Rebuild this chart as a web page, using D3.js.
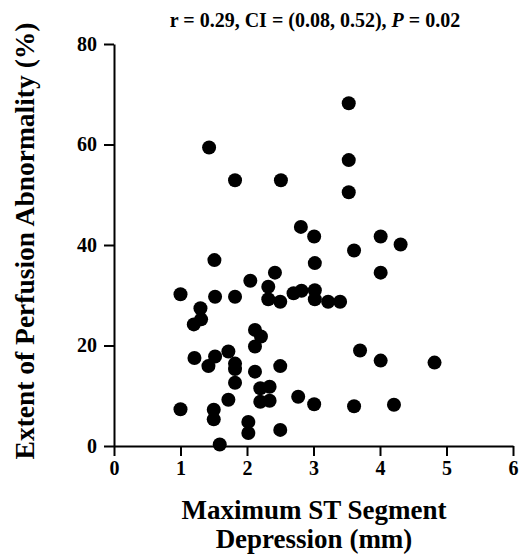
<!DOCTYPE html>
<html>
<head>
<meta charset="utf-8">
<script src="https://cdn.jsdelivr.net/npm/d3@7"></script>
<style>
  body { margin: 0; background: #fff; }
  svg { display: block; }
  .axis path, .axis line { stroke: #000; stroke-width: 2; }
  .axis text { font-family: "Liberation Serif", "Times New Roman", serif; font-weight: bold; font-size: 20px; fill: #000; }
  .label { font-family: "Liberation Serif", "Times New Roman", serif; font-weight: bold; fill: #000; }
</style>
</head>
<body>
<div id="chart"></div>
<script>
// ST depression (mm) vs extent of perfusion abnormality (%)
const stDepression = [
  1.0, 1.52, 1.82, 2.05, 2.42, 2.32, 2.32, 2.50, 2.70, 2.82, 3.02, 3.02, 3.22, 3.40,
  1.30, 1.31, 1.20, 2.12, 2.21, 2.12, 3.70, 1.21, 1.52, 1.42, 1.72, 1.82, 1.82, 2.12,
  2.50, 1.82, 2.20, 2.34, 2.20, 2.34, 1.72, 1.0, 1.50, 1.50, 2.77, 3.01, 2.02, 2.02,
  2.50, 1.59, 3.61, 3.53, 1.43, 1.82, 2.51, 3.53, 3.53, 2.81, 3.01, 3.02, 3.61, 1.51,
  4.01, 4.31, 4.01, 4.01, 4.82, 4.21
];
const perfusion = [
  30.2, 29.7, 29.7, 32.9, 34.5, 31.7, 29.2, 28.7, 30.4, 30.9, 31.0, 29.2, 28.7, 28.7,
  27.4, 25.2, 24.2, 23.1, 21.8, 19.8, 19.0, 17.5, 17.8, 15.9, 18.8, 16.4, 15.3, 14.8,
  15.9, 12.6, 11.5, 11.8, 8.8, 9.0, 9.2, 7.3, 7.2, 5.3, 9.8, 8.3, 4.8, 2.6,
  3.2, 0.3, 7.9, 68.2, 59.4, 52.9, 52.9, 56.9, 50.5, 43.6, 41.7, 36.4, 38.9, 37.0,
  41.7, 40.1, 34.5, 17.0, 16.6, 8.2
];
const xTicks = [0, 1, 2, 3, 4, 5, 6];
const yTicks = [0, 20, 40, 60, 80];

const width = 520, height = 555;
const svg = d3.select("#chart").append("svg")
    .attr("width", width)
    .attr("height", height);

const x = d3.scaleLinear().domain([0, 6]).range([114, 513]);
const y = d3.scaleLinear().domain([0, 80]).range([446, 44]);

svg.append("g")
    .attr("class", "axis")
    .attr("transform", "translate(0," + y(0) + ")")
    .call(d3.axisBottom(x).tickValues(xTicks).tickFormat(d3.format("d"))
        .tickSize(10).tickSizeOuter(0).tickPadding(5));

svg.append("g")
    .attr("class", "axis")
    .attr("transform", "translate(" + x(0) + ",0)")
    .call(d3.axisLeft(y).tickValues(yTicks).tickFormat(d3.format("d"))
        .tickSize(10).tickSizeOuter(0).tickPadding(7));

// points
const points = stDepression.map((d, i) => ({ x: d, y: perfusion[i] }));
svg.selectAll(".dot")
    .data(points)
    .enter().append("circle")
    .attr("class", "dot")
    .attr("r", 7)
    .attr("cx", d => x(d.x))
    .attr("cy", d => y(d.y))
    .attr("fill", "#000");

// title
const title = svg.append("text")
    .attr("class", "label")
    .attr("x", 315)
    .attr("y", 27)
    .attr("text-anchor", "middle")
    .style("font-size", "20px");
title.append("tspan").text("r = 0.29, CI = (0.08, 0.52), ");
title.append("tspan").style("font-style", "italic").text("P");
title.append("tspan").text(" = 0.02");

// axis labels
svg.append("text")
    .attr("class", "label")
    .attr("text-anchor", "middle")
    .attr("transform", "translate(34,241) rotate(-90)")
    .style("font-size", "27.5px")
    .text("Extent of Perfusion Abnormality (%)");

svg.append("text")
    .attr("class", "label")
    .attr("text-anchor", "middle")
    .attr("x", 314)
    .attr("y", 519)
    .style("font-size", "27px")
    .text("Maximum ST Segment");

svg.append("text")
    .attr("class", "label")
    .attr("text-anchor", "middle")
    .attr("x", 314)
    .attr("y", 548)
    .style("font-size", "27px")
    .text("Depression (mm)");
</script>
</body>
</html>
